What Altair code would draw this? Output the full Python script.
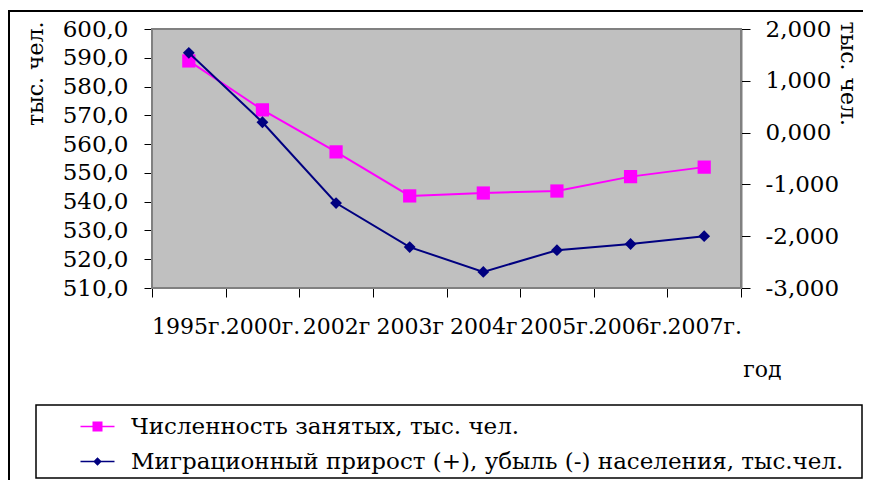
import altair as alt
import pandas as pd

years = ["1995г.", "2000г.", "2002г", "2003г", "2004г", "2005г.", "2006г.", "2007г."]
employed = [588.9, 571.9, 557.3, 542.0, 543.0, 543.7, 548.7, 552.0]
migration = [1.54, 0.20, -1.36, -2.21, -2.69, -2.27, -2.15, -2.00]
series_names = ["Численность занятых, тыс. чел.",
                "Миграционный прирост (+), убыль (-) населения, тыс.чел."]
left_ticks = [510, 520, 530, 540, 550, 560, 570, 580, 590, 600]
right_ticks = [-3, -2, -1, 0, 1, 2]

PINK = "#ff00ff"
NAVY = "#000080"
FONT = "DejaVu Serif"

df = pd.DataFrame({"year": years, "employed": employed, "migration": migration})

W, H = 589, 259
PL, PT = 144, 21

x_enc = alt.X(
    "year:N", sort=years, bandPosition=0.5,
    scale=alt.Scale(type="band", paddingInner=0, paddingOuter=0),
    axis=alt.Axis(title="год", tickBand="extent", labelAngle=0, labelOverlap=False,
                  labelFontSize=22, labelPadding=19, labelColor="black",
                  tickSize=9, tickColor="black", domain=False,
                  titleFontSize=22, titleFontWeight="normal", titleColor="black",
                  titleAlign="right", titleBaseline="alphabetic",
                  titleX=629, titleY=88),
)

left_axis = alt.Axis(
    values=left_ticks, labelExpr="replace(format(datum.value, '.1f'), '.', ',')",
    labelFontSize=23, labelColor="black", labelPadding=16, labelOverlap=False,
    labelBound=False, labelFlush=False,
    tickSize=8, tickColor="black", domain=False, grid=False,
    title="тыс. чел.", titleFontSize=22, titleFontWeight="normal", titleColor="black",
    titleAngle=-90, titleAlign="right", titleBaseline="middle", titleX=-117, titleY=-8,
)
right_axis = alt.Axis(
    orient="right", values=right_ticks,
    labelExpr="replace(replace(format(datum.value, '.3f'), '.', ','), '\u2212', '-')",
    labelFontSize=23, labelColor="black", labelPadding=15, labelOverlap=False,
    labelBound=False, labelFlush=False,
    tickSize=9, tickColor="black", domain=True, domainColor="black", domainWidth=1.5,
    grid=False,
    title="тыс. чел.", titleFontSize=22, titleFontWeight="normal", titleColor="black",
    titleAngle=90, titleAlign="left", titleBaseline="middle", titleX=106, titleY=-8,
)

base = alt.Chart(df)
y_left = alt.Y("employed:Q", scale=alt.Scale(domain=[510, 600], nice=False, zero=False), axis=left_axis)
y_right = alt.Y("migration:Q", scale=alt.Scale(domain=[-3, 2], nice=False, zero=False), axis=right_axis)

left = alt.layer(
    base.mark_line(color=PINK, strokeWidth=2).encode(x=x_enc, y=y_left),
    base.mark_point(shape="square", filled=True, color=PINK, size=175, opacity=1).encode(x=x_enc, y=y_left),
)
right = alt.layer(
    base.mark_line(color=NAVY, strokeWidth=2).encode(x=x_enc, y=y_right),
    base.mark_point(shape="diamond", filled=True, color=NAVY, size=140, opacity=1).encode(x=x_enc, y=y_right),
)

deco = pd.DataFrame({"k": [0]})
frame = alt.Chart(deco).mark_rect(fillOpacity=0, stroke="black", strokeWidth=2).encode(
    x=alt.value(-143), x2=alt.value(760), y=alt.value(-18), y2=alt.value(480))
plot_bg = alt.Chart(deco).mark_rect(fill="#c0c0c0", stroke="#808080", strokeWidth=2).encode(
    x=alt.value(0), x2=alt.value(W), y=alt.value(0), y2=alt.value(H))
legend_box = alt.Chart(deco).mark_rect(fill="white", stroke="black", strokeWidth=1.5).encode(
    x=alt.value(-116), x2=alt.value(710), y=alt.value(376), y2=alt.value(449))

paths = [
    "M-3.4,-0.14H3.4V0.14H-3.4Z M-1,-1H1V1H-1Z",
    "M-3.4,-0.16H3.4V0.16H-3.4Z M0,-0.85L0.85,0L0,0.85L-0.85,0Z",
]
leg_kw = dict(title=None, orient="none", legendX=-66, legendY=386,
              labelFontSize=23, labelColor="black", labelLimit=900, labelFont=FONT,
              labelOffset=22, rowPadding=11, padding=0, symbolOffset=0)
leg_df = pd.DataFrame({"series": series_names})
legend_layer = alt.Chart(leg_df).mark_point(filled=True, opacity=1, size=196).encode(
    color=alt.Color("series:N", scale=alt.Scale(domain=series_names, range=[PINK, NAVY]),
                    legend=alt.Legend(**leg_kw)),
    shape=alt.Shape("series:N", scale=alt.Scale(domain=series_names, range=paths),
                    legend=alt.Legend(**leg_kw)),
).transform_filter("false")

chart = alt.layer(frame, plot_bg, legend_box, left, right, legend_layer).resolve_scale(
    y="independent"
).properties(
    width=W, height=H,
    autosize=alt.AutoSizeParams(type="none"),
    padding={"left": PL, "top": PT, "right": 855 - PL - W, "bottom": 472 - PT - H},
).configure(font=FONT).configure_view(stroke=None)

chart.save("out.html", embed_options={"renderer": "svg", "actions": False})
